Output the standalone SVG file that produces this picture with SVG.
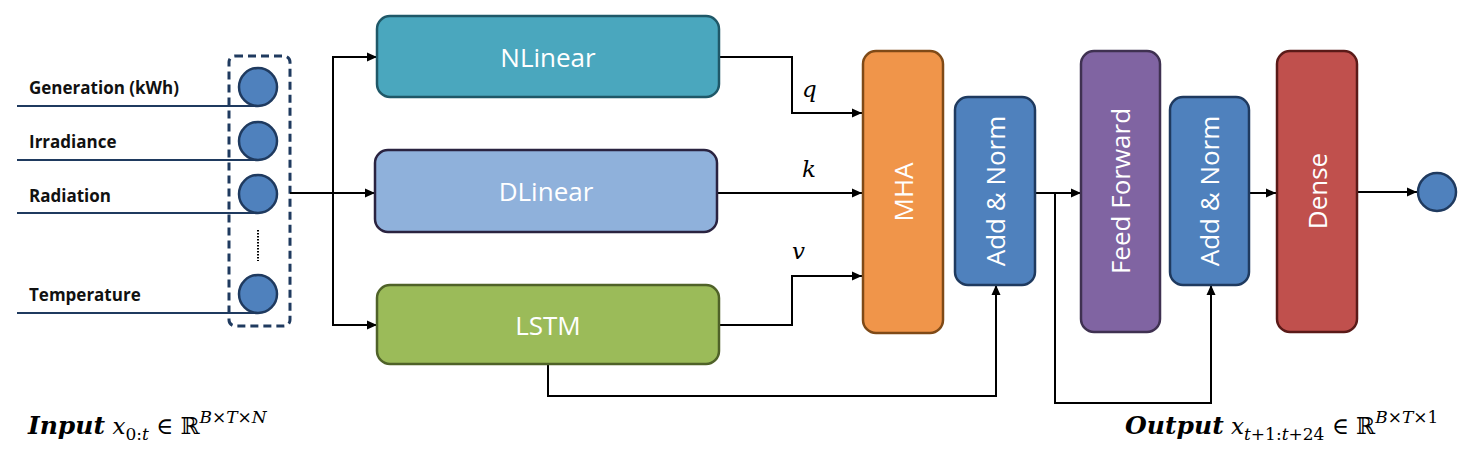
<svg xmlns="http://www.w3.org/2000/svg" width="1476" height="462" viewBox="0 0 1476 462">
<defs>
<marker id="arr" markerWidth="12" markerHeight="12" refX="10" refY="5.5" orient="auto" markerUnits="userSpaceOnUse">
<path d="M0,1 L10,5.5 L0,10 Z" fill="#000"/>
</marker>
<style>
.lbl{font-family:"Open Sans","Noto Sans",sans-serif;font-size:26px;fill:#fff;text-anchor:middle;dominant-baseline:central}
.in{font-family:"Open Sans","Noto Sans",sans-serif;font-size:17px;font-weight:700;fill:#111}
.feat{stroke:#1F3A5F;stroke-width:2;fill:none}
.neuron{fill:#4F81BD;stroke:#1F3A5F;stroke-width:2.5}
.con{fill:none;stroke:#000;stroke-width:2}
.arr{marker-end:url(#arr)}
.math{font-family:"DejaVu Serif","Liberation Serif",serif;font-size:23px;fill:#000}
.it{font-style:italic}
.bi{font-style:italic;font-weight:700}
</style>
</defs>
<rect width="1476" height="462" fill="#fff"/>

<g id="input-layer">
<line class="feat" x1="17" y1="106" x2="258" y2="106"/>
<line class="feat" x1="17" y1="160" x2="258" y2="160"/>
<line class="feat" x1="17" y1="213" x2="258" y2="213"/>
<line class="feat" x1="17" y1="313" x2="258" y2="313"/>
<text class="in" x="29" y="94">Generation (kWh)</text>
<text class="in" x="29" y="148">Irradiance</text>
<text class="in" x="29" y="202">Radiation</text>
<text class="in" x="29" y="301">Temperature</text>
<rect x="229" y="56" width="61" height="270" rx="6" fill="none" stroke="#1F3A5F" stroke-width="3" stroke-dasharray="8,5"/>
<circle class="neuron" cx="258" cy="87" r="19"/>
<circle class="neuron" cx="258" cy="141" r="19"/>
<circle class="neuron" cx="258" cy="194" r="19"/>
<circle class="neuron" cx="258" cy="294" r="19"/>
<line x1="258" y1="230" x2="258" y2="261" stroke="#000" stroke-width="2" stroke-dasharray="1.5,1.5"/>
</g>

<g id="connectors">
<path class="con" d="M290,193 H333"/>
<path class="con arr" d="M333,193 H375"/>
<path class="con arr" d="M333,193 V57 H377"/>
<path class="con arr" d="M333,193 V325 H377"/>
<path class="con arr" d="M719,57 H792 V113 H862"/>
<path class="con arr" d="M717,193 H862"/>
<path class="con arr" d="M719,325 H792 V276 H862"/>
<path class="con arr" d="M548,364 V396 H996 V285"/>
<path class="con arr" d="M1035,193 H1081"/>
<path class="con arr" d="M1055,193 V403 H1211 V285"/>
<path class="con arr" d="M1249,193 H1276"/>
<path class="con arr" d="M1357,192 H1417"/>
</g>

<g id="labels-qkv" class="math">
<text class="it" x="802" y="97" font-size="23">q</text>
<text class="it" x="802" y="177" font-size="23">k</text>
<text class="it" x="792" y="259" font-size="23">v</text>
</g>

<g id="nlinear">
<rect x="377" y="16" width="342" height="81" rx="13" fill="#4AA7BE" stroke="#1F5868" stroke-width="2.5"/>
<text class="lbl" x="548" y="57">NLinear</text>
</g>
<g id="dlinear">
<rect x="375" y="150" width="342" height="82" rx="13" fill="#8FB1DB" stroke="#2A2340" stroke-width="2.5"/>
<text class="lbl" x="546" y="191">DLinear</text>
</g>
<g id="lstm">
<rect x="377" y="285" width="342" height="79" rx="13" fill="#9BBB59" stroke="#4F6228" stroke-width="2.5"/>
<text class="lbl" x="548" y="325">LSTM</text>
</g>
<g id="mha">
<rect x="863" y="51" width="80" height="282" rx="13" fill="#F0954A" stroke="#7F4A17" stroke-width="2.5"/>
<text class="lbl" transform="translate(903,192) rotate(-90)">MHA</text>
</g>
<g id="addnorm1">
<rect x="955" y="97" width="80" height="188" rx="13" fill="#4F81BD" stroke="#1F3A5F" stroke-width="2.5"/>
<text class="lbl" transform="translate(995,191) rotate(-90)">Add &amp; Norm</text>
</g>
<g id="feedforward">
<rect x="1081" y="51" width="79" height="281" rx="13" fill="#8064A2" stroke="#3F3151" stroke-width="2.5"/>
<text class="lbl" transform="translate(1120,191) rotate(-90)">Feed Forward</text>
</g>
<g id="addnorm2">
<rect x="1170" y="97" width="79" height="188" rx="13" fill="#4F81BD" stroke="#1F3A5F" stroke-width="2.5"/>
<text class="lbl" transform="translate(1209,191) rotate(-90)">Add &amp; Norm</text>
</g>
<g id="dense">
<rect x="1277" y="51" width="80" height="281" rx="13" fill="#C0504D" stroke="#5A1A18" stroke-width="2.5"/>
<text class="lbl" transform="translate(1317,191) rotate(-90)">Dense</text>
</g>
<g id="output">
<circle class="neuron" cx="1437" cy="192" r="19"/>
</g>

<g id="captions" class="math">
<text x="28" y="434"><tspan class="bi" font-size="25">Input</tspan><tspan class="it"> x</tspan><tspan font-size="17" dy="6">0:</tspan><tspan class="it" font-size="17">t</tspan><tspan dy="-6"> ∈ ℝ</tspan><tspan class="it" font-size="17" dy="-11">B×T×N</tspan></text>
<text x="1125" y="434"><tspan class="bi" font-size="25">Output</tspan><tspan class="it"> x</tspan><tspan class="it" font-size="17" dy="6">t</tspan><tspan font-size="17">+1:</tspan><tspan class="it" font-size="17">t</tspan><tspan font-size="17">+24</tspan><tspan dy="-6"> ∈ ℝ</tspan><tspan class="it" font-size="17" dy="-11">B×T×</tspan><tspan font-size="17">1</tspan></text>
</g>
</svg>
